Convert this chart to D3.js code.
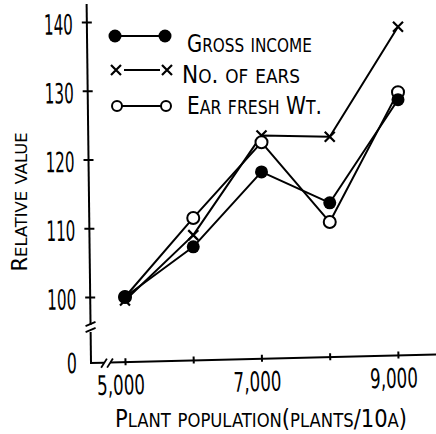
<!DOCTYPE html>
<html>
<head>
<meta charset="utf-8">
<script src="https://cdn.jsdelivr.net/npm/d3@7"></script>
<style>
  html, body { margin: 0; padding: 0; background: #fff; }
  svg { display: block; }
  text { font-family: "Liberation Sans Narrow", "DejaVu Sans Condensed", sans-serif; fill: #000; }
</style>
</head>
<body>
<svg id="chart" width="436" height="434"></svg>
<script>
// ---- data ----
const categories = [5000, 6000, 7000, 8000, 9000];
const grossIncome = [100, 107.3, 118.2, 113.7, 128.7];
const numEars = [99.5, 109.0, 123.5, 123.3, 139.3];
const earFreshWt = [100, 111.5, 122.5, 110.9, 129.8];
const yTicks = [100, 110, 120, 130, 140];
const xTickValues = [5000, 6000, 7000, 8000, 9000];
const xTickLabels = ["5,000", "", "7,000", "", "9,000"];
const seriesNames = ["Gross income", "No. of ears", "Ear fresh Wt."];
const yTitle = "Relative value";
const xTitle = "Plant population(plants/10a)";

const svg = d3.select("#chart");
const ox = 91, oy = 363; // axis corner

const x = d3.scaleLinear().domain([5000, 9000]).range([125, 398]);
const y = d3.scaleLinear().domain([100, 140]).range([297, 22]);

// small-caps helper: lowercase letters drawn as reduced capitals
function smallCaps(textSel, str, size, ratio) {
  const parts = [];
  for (const ch of str) {
    const low = ch !== ch.toUpperCase();
    const last = parts[parts.length - 1];
    if (last && last.low === low) last.s += ch; else parts.push({ low, s: ch });
  }
  parts.forEach(p => {
    textSel.append("tspan")
      .attr("font-size", p.low ? size * ratio : size)
      .text(p.low ? p.s.toUpperCase() : p.s);
  });
  return textSel;
}
// squeeze a text horizontally (in its own frame) to a target width
function fit(textSel, target, tx, ty, rot) {
  const w = textSel.node().getComputedTextLength();
  const sx = w > 0 ? target / w : 1;
  textSel.attr("transform", `translate(${tx},${ty})${rot ? ` rotate(${rot})` : ""} scale(${sx},1)`);
  return textSel;
}

// ---- Y axis ----
const gy = svg.append("g").attr("transform", `rotate(-0.7, ${ox}, ${oy})`);
gy.append("line").attr("x1", ox).attr("x2", ox).attr("y1", 4).attr("y2", 325)
  .attr("stroke", "#000").attr("stroke-width", 2);
gy.append("line").attr("x1", ox).attr("x2", ox).attr("y1", 332).attr("y2", oy + 1)
  .attr("stroke", "#000").attr("stroke-width", 2);
gy.append("line").attr("x1", ox - 5).attr("x2", ox + 5).attr("y1", 326).attr("y2", 322)
  .attr("stroke", "#000").attr("stroke-width", 1.8);
gy.append("line").attr("x1", ox - 5).attr("x2", ox + 5).attr("y1", 332).attr("y2", 328)
  .attr("stroke", "#000").attr("stroke-width", 1.8);

const yAxis = d3.axisLeft(y).tickValues(yTicks).tickSize(5).tickPadding(0);
const yAx = gy.append("g").attr("transform", `translate(${ox},0)`).call(yAxis);
yAx.select(".domain").remove();
yAx.selectAll(".tick line").attr("x1", -5).attr("x2", 5).attr("stroke", "#000").attr("stroke-width", 2);
yAx.selectAll(".tick text")
  .attr("font-family", "Liberation Sans Narrow, DejaVu Sans Condensed, sans-serif")
  .attr("font-size", 28).attr("dy", "0.42em").attr("x", null)
  .each(function () { fit(d3.select(this), 29, -14, 0); });
fit(gy.append("text").attr("text-anchor", "end").attr("font-size", 28).text("0"),
  10, ox - 14, oy + 10);

// ---- X axis ----
const gx = svg.append("g").attr("transform", `rotate(-1.4, ${ox}, ${oy})`);
gx.append("line").attr("x1", ox - 1).attr("x2", 104).attr("y1", oy).attr("y2", oy)
  .attr("stroke", "#000").attr("stroke-width", 2);
gx.append("line").attr("x1", 110).attr("x2", 440).attr("y1", oy).attr("y2", oy)
  .attr("stroke", "#000").attr("stroke-width", 2);
gx.append("line").attr("x1", 101).attr("x2", 107).attr("y1", oy + 5).attr("y2", oy - 4)
  .attr("stroke", "#000").attr("stroke-width", 1.8);
gx.append("line").attr("x1", 107).attr("x2", 113).attr("y1", oy + 5).attr("y2", oy - 4)
  .attr("stroke", "#000").attr("stroke-width", 1.8);

const xAxis = d3.axisBottom(x).tickValues(xTickValues)
  .tickFormat((d, i) => xTickLabels[i]).tickSize(4).tickPadding(0);
const xAx = gx.append("g").attr("transform", `translate(0,${oy})`).call(xAxis);
xAx.select(".domain").remove();
xAx.selectAll(".tick line").attr("y1", -4).attr("y2", 3).attr("stroke", "#000").attr("stroke-width", 2);
xAx.selectAll(".tick text").filter(function () { return !this.textContent; }).remove();
xAx.selectAll(".tick text")
  .attr("font-family", "Liberation Sans Narrow, DejaVu Sans Condensed, sans-serif")
  .attr("font-size", 27).attr("y", null).attr("dy", "0.71em")
  .each(function () { fit(d3.select(this), 48, -5, 13); });

// ---- axis titles ----
fit(smallCaps(svg.append("text").attr("text-anchor", "middle"), yTitle, 21, 0.78),
  139, 27, 202, -90);
fit(smallCaps(svg.append("text").attr("text-anchor", "middle"), xTitle, 24, 0.78),
  292, 261, 427);

// ---- series ----
const series = [
  { name: seriesNames[0], values: grossIncome, type: "filled" },
  { name: seriesNames[1], values: numEars, type: "cross" },
  { name: seriesNames[2], values: earFreshWt, type: "open" }
];
const line = d3.line().x(d => x(d[0])).y(d => y(d[1]));
const plot = svg.append("g");
series.forEach(s => {
  plot.append("path")
    .attr("d", line(categories.map((c, i) => [c, s.values[i]])))
    .attr("fill", "none").attr("stroke", "#000").attr("stroke-width", 2)
    .attr("stroke-linejoin", "round");
});

function marker(g, type, cx, cy, big) {
  if (type === "filled") {
    g.append("circle").attr("cx", cx).attr("cy", cy).attr("r", 6.5).attr("fill", "#000");
  } else if (type === "open") {
    g.append("circle").attr("cx", cx).attr("cy", cy).attr("r", big ? 6 : 5)
      .attr("fill", "#fff").attr("stroke", "#000").attr("stroke-width", 2);
  } else {
    const h = 5;
    g.append("path")
      .attr("d", `M${cx - h},${cy - h}L${cx + h},${cy + h}M${cx - h},${cy + h}L${cx + h},${cy - h}`)
      .attr("stroke", "#000").attr("stroke-width", 2.2).attr("fill", "none");
  }
}
["cross", "open", "filled"].forEach(t => {
  const s = series.find(d => d.type === t);
  categories.forEach((c, i) => marker(plot, t, x(c), y(s.values[i]), true));
});

// ---- legend ----
const legendRows = [
  { type: "filled", y: 36, x1: 115, x2: 165, tx: 187, ty: 52, tl: 125, lx1: 115, lx2: 165 },
  { type: "cross", y: 70, x1: 116, x2: 167, tx: 182, ty: 83, tl: 118, lx1: 124, lx2: 160 },
  { type: "open", y: 106, x1: 117, x2: 166, tx: 187, ty: 114, tl: 135, lx1: 117, lx2: 166 }
];
const lg = svg.append("g");
legendRows.forEach((r, i) => {
  lg.append("line").attr("x1", r.lx1).attr("x2", r.lx2).attr("y1", r.y).attr("y2", r.y)
    .attr("stroke", "#000").attr("stroke-width", 2);
  marker(lg, r.type, r.x1, r.y, false);
  marker(lg, r.type, r.x2, r.y, false);
  fit(smallCaps(lg.append("text"), series[i].name, 25, 0.78), r.tl, r.tx, r.ty);
});
</script>
</body>
</html>
